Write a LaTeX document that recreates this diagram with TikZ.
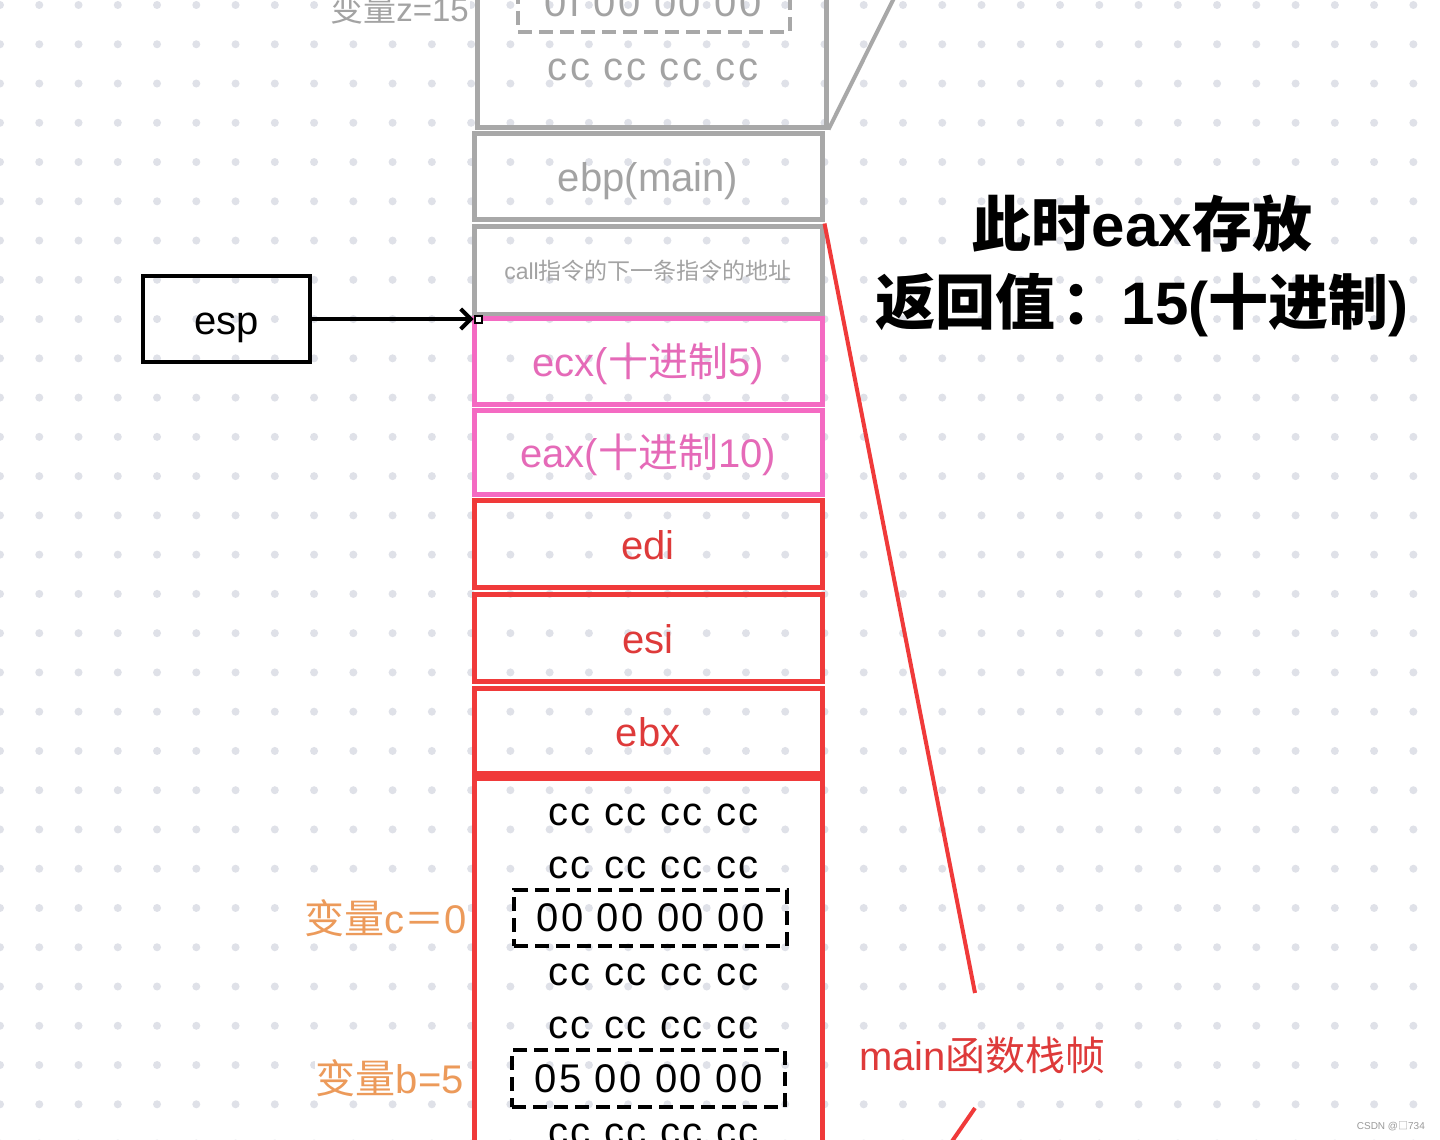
\documentclass[tikz,border=0pt]{standalone}
\usepackage{fontspec}
\setmainfont{Liberation Sans}
\newfontfamily\cjk{Noto Sans CJK SC}
\usetikzlibrary{arrows.meta}
\definecolor{dotc}{HTML}{DFE1E8}
\definecolor{gline}{HTML}{A8A8A8}
\definecolor{gtext}{HTML}{A3A3A3}
\definecolor{pline}{HTML}{F46AC2}
\definecolor{ptext}{HTML}{E56AB8}
\definecolor{rline}{HTML}{F03A3A}
\definecolor{rtext}{HTML}{DE3A3A}
\definecolor{otext}{HTML}{EC9A5A}
\definecolor{wmark}{HTML}{9A9A9A}
\newcommand\fsz[1]{\fontsize{#1}{#1}\selectfont}
\newcommand\spaced{\addfontfeature{LetterSpace=6}}
\begin{document}
\begin{tikzpicture}[x=1pt,y=-1pt,
  cell/.style={draw, line width=5pt, inner sep=0pt, minimum width=348pt, font=\fsz{40}, text height=33pt, text depth=2pt},
  graycell/.style={cell, draw=gline, text=gtext},
  pinkcell/.style={cell, draw=pline, text=ptext},
  redcell/.style={cell, draw=rline, text=rtext},
  dashbox/.style={draw, dash pattern=on 14pt off 7pt, line width=4pt, inner sep=0pt, font=\fsz{40}\spaced},
  hexrow/.style={inner sep=0pt, font=\fsz{40}\spaced},
  lbl/.style={fill=white, inner sep=1pt, text=otext, font=\fsz{40}},
  conn/.style={line width=4pt}
]
\useasboundingbox (0,0) rectangle (1440,1140);
\clip (0,0) rectangle (1440,1140);
\fill[white] (0,0) rectangle (1440,1140);
% dot grid
\foreach \i in {0,...,36}{
  \foreach \j in {0,...,29}{
    \fill[dotc] ({39.26*\i},{5+39.26*\j}) circle (4);
  }
}
% top (partially visible) frame
\node[graycell, minimum width=349pt, minimum height=157pt] (topbox) at (651.5,48.5) {};
\node[dashbox, draw=gline, text=gtext, minimum width=272pt, minimum height=64pt] (zbox) at (654,0) {};
\node[hexrow, text=gtext, anchor=base] (zhex) at (653,17) {0f 00 00 00};
\node[hexrow, text=gtext] (topcc) at (653,70) {cc cc cc cc};
\node[fill=white, inner sep=1pt, text=gtext, font=\fsz{33}, anchor=base east] (zlbl) at (470,22) {{\cjk 变量}z=15};
% cells
\node[graycell, minimum height=86pt] (ebp) at (648,176) {ebp(main)};
\node[graycell, minimum height=88.5pt, font=\fsz{23}, text height=19pt, text depth=1pt] (call) at (648,270.25) {call{\cjk 指令的下一条指令的地址}};
\node[pinkcell, minimum height=85.5pt] (ecx) at (648,361.25) {ecx({\cjk 十进制}5)};
\node[pinkcell, minimum height=84pt] (eax) at (648,452) {eax({\cjk 十进制}10)};
\node[redcell, minimum height=87pt] (edi) at (648,543.5) {edi};
\node[redcell, minimum height=87.5pt] (esi) at (648,637.75) {esi};
\node[redcell, minimum height=85.5pt] (ebx) at (648,730.75) {ebx};
\node[redcell, minimum height=422pt] (frame) at (648,989) {};
% frame contents
\node[hexrow] (cc1) at (653.5,815) {cc cc cc cc};
\node[hexrow] (cc2) at (653.5,868) {cc cc cc cc};
\node[dashbox, minimum width=273pt, minimum height=56pt] (cbox) at (650.5,918) {00 00 00 00};
\node[hexrow] (cc3) at (653.5,975) {cc cc cc cc};
\node[hexrow] (cc4) at (653.5,1028) {cc cc cc cc};
\node[dashbox, minimum width=273pt, minimum height=57pt] (bbox) at (648.5,1078.5) {05 00 00 00};
\node[hexrow] (cc5) at (653.5,1135) {cc cc cc cc};
\node[lbl, anchor=east] (clbl) at (468,918) {{\cjk 变量}c{\cjk ＝}0};
\node[lbl, anchor=east] (blbl) at (465,1078) {{\cjk 变量}b=5};
% esp pointer
\node[draw, line width=4pt, minimum width=167pt, minimum height=86pt, inner sep=0pt, font=\fsz{40}, text height=33pt, text depth=2pt] (esp) at (226.5,319) {esp};
\node[draw, fill=white, line width=2pt, minimum size=7pt, inner sep=0pt] (sq) at (478,319) {};
\draw[conn, -{Straight Barb[length=10pt,width=20pt]}] (esp.east) -- (sq.west);
% gray diagonal
\coordinate (gtop) at (899,-12);
\draw[conn, gline] (topbox.south east) -- (gtop);
% red bracket and label
\coordinate (ra) at (975,993);
\coordinate (rb) at (975,1108);
\coordinate (rc) at (937,1163);
\draw[conn, rline] (call.north east) -- (ra);
\draw[conn, rline] (rb) -- (rc);
\node[fill=white, inner sep=1pt, text=rtext, font=\fsz{40}, anchor=west] (mainlbl) at (858,1055) {main{\cjk 函数栈帧}};
% title
\node[font=\fsz{60}\bfseries] (t1) at (1142,224) {{\cjk 此时}eax{\cjk 存放}};
\node[font=\fsz{60}\bfseries] (t2) at (1142,305) {{\cjk 返回值}\hspace{6pt}{\cjk ：}15({\cjk 十进制})};
% watermark
\node[anchor=east, inner sep=0pt, text=wmark, font=\fsz{10}] (wm) at (1425,1126) {CSDN @{\cjk □}734};
\end{tikzpicture}
\end{document}
